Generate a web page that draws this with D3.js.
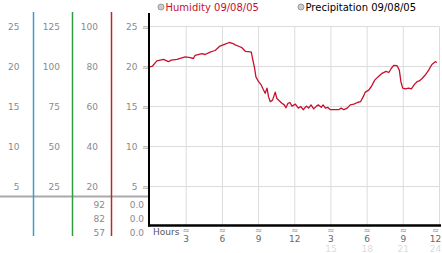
<!DOCTYPE html>
<html>
<head>
<meta charset="utf-8">
<script src="https://cdn.jsdelivr.net/npm/d3@7"></script>
<style>
  body { margin: 0; background: #fff; }
  svg { display: block; font-family: "DejaVu Sans", sans-serif; }
</style>
</head>
<body>
<svg id="chart" width="442" height="253"></svg>
<script>
// readings for the day, hour of day vs humidity (plotted on the 0-25 scale)
var hours = [0, 0.21, 0.57, 1.12, 1.53, 1.76, 2.23, 2.92, 3.33, 3.6, 3.74, 4.3, 4.57, 4.98, 5.4, 5.8,
  6.23, 6.56, 6.84, 7.06, 7.4, 7.62, 7.9, 8.17, 8.4, 8.5, 8.67, 8.78, 9.0, 9.22, 9.4, 9.55, 9.7, 9.83,
  9.97, 10.16, 10.38, 10.52, 10.8, 10.94, 11.13, 11.27, 11.44, 11.6, 11.77, 12.05, 12.3, 12.5, 12.7,
  12.96, 13.15, 13.35, 13.57, 13.8, 13.96, 14.2, 14.35, 14.54, 14.73, 14.95, 15.37, 15.65, 15.85,
  16.07, 16.35, 16.6, 16.9, 17.2, 17.45, 17.67, 17.85, 18.13, 18.35, 18.63, 18.9, 19.24, 19.57, 19.8,
  20.0, 20.2, 20.48, 20.67, 20.8, 20.95, 21.17, 21.44, 21.67, 21.94, 22.14, 22.33, 22.55, 22.8, 23.1,
  23.37, 23.65, 23.78];
var humidity = [19.95, 20.06, 20.7, 20.9, 20.6, 20.8, 20.9, 21.2, 21.1, 21.0, 21.4, 21.6, 21.5, 21.8, 22.0, 22.55,
  22.8, 23.0, 22.9, 22.7, 22.5, 22.35, 21.9, 21.85, 21.8, 21.0, 19.8, 18.7, 18.1, 17.7, 17.1, 16.65, 17.3, 16.2,
  15.6, 15.8, 16.8, 16.0, 15.6, 15.4, 15.2, 14.85, 15.4, 15.5, 15.05, 15.3, 14.8, 15.0, 14.6,
  15.05, 14.8, 15.2, 14.7, 15.05, 15.2, 14.9, 15.2, 14.8, 14.9, 14.6, 14.6, 14.6, 14.8,
  14.6, 14.8, 15.2, 15.3, 15.5, 15.6, 16.2, 16.8, 17.05, 17.5, 18.3, 18.7, 19.15, 19.4, 19.25,
  19.75, 20.15, 20.1, 19.55, 18.1, 17.3, 17.2, 17.3, 17.2, 17.8, 18.1, 18.2, 18.5, 18.9, 19.55,
  20.25, 20.6, 20.5];

var seriesNames = ["Humidity 09/08/05", "Precipitation 09/08/05"];
var seriesColors = ["#c8102e", "#000"];

// stacked scale columns on the left
var col1Ticks = [25, 20, 15, 10, 5];
var col2Ticks = [125, 100, 75, 50, 25];
var col3Ticks = [100, 80, 60, 40, 20];
var col4Ticks = [25, 20, 15, 10, 5];
var col3Rows = ["92", "82", "57"];
var col4Rows = ["0.0", "0.0", "0.0"];

var hourTicks = [3, 6, 9, 12, 15, 18, 21, 24];
var hourLabels = ["3", "6", "9", "12", "3", "6", "9", "12"];
var hourLabels2 = ["", "", "", "", "15", "18", "21", "24"];
var gridValues = [25, 20, 15, 10, 5];

var svg = d3.select("#chart");

var x = d3.scaleLinear([0, 24], [150, 439.5]);
var y = d3.scaleLinear([0, 25], [226.5, 26.5]);
var y2 = d3.scaleLinear([0, 125], [226.5, 26.5]);
var y3 = d3.scaleLinear([0, 100], [226.5, 26.5]);
var rowY = d3.scalePoint([0, 1, 2], [207.5, 236]);

// grid
svg.append("g").selectAll("line")
  .data(gridValues)
  .join("line")
  .attr("x1", 150).attr("x2", x(24))
  .attr("y1", d => y(d)).attr("y2", d => y(d))
  .attr("stroke", "#dcdcdc").attr("stroke-width", 1);

svg.append("g").selectAll("line")
  .data(hourTicks)
  .join("line")
  .attr("x1", d => x(d)).attr("x2", d => x(d))
  .attr("y1", y(25)).attr("y2", 225)
  .attr("stroke", "#dcdcdc").attr("stroke-width", 1);

// grey divider on the left
svg.append("line")
  .attr("x1", 0).attr("x2", 149).attr("y1", 196.5).attr("y2", 196.5)
  .attr("stroke", "#aaa").attr("stroke-width", 2);

// coloured column rules
var ruleX = [33.5, 72.5, 111.5];
var ruleColors = ["#3a9ccf", "#2f9e3a", "#b8282c"];
svg.append("g").selectAll("line")
  .data(ruleX)
  .join("line")
  .attr("x1", d => d).attr("x2", d => d)
  .attr("y1", 12).attr("y2", 236)
  .attr("stroke", (d, i) => ruleColors[i]).attr("stroke-width", 1.5);

// column labels
function column(ticks, scale, xr) {
  svg.append("g").selectAll("text")
    .data(ticks)
    .join("text")
    .attr("x", xr)
    .attr("y", d => scale(d) + 3.5)
    .attr("text-anchor", "end")
    .attr("font-size", 9)
    .attr("fill", "#8a8a8a")
    .text(d => d);
}
column(col1Ticks, y, 19.5);
column(col2Ticks, y2, 60);
column(col3Ticks, y3, 98);
column(col4Ticks, y, 137.5);

// little break marks next to the axis
svg.append("g").selectAll("text")
  .data(col4Ticks)
  .join("text")
  .attr("x", 145.5)
  .attr("y", d => y(d) + 3)
  .attr("text-anchor", "middle")
  .attr("font-size", 8)
  .attr("fill", "#888")
  .text("≈");

svg.append("g").selectAll("text")
  .data(col3Rows)
  .join("text")
  .attr("x", 105).attr("y", (d, i) => rowY(i))
  .attr("text-anchor", "end").attr("font-size", 9).attr("fill", "#8a8a8a")
  .text(d => d);

svg.append("g").selectAll("text")
  .data(col4Rows)
  .join("text")
  .attr("x", 144).attr("y", (d, i) => rowY(i))
  .attr("text-anchor", "end").attr("font-size", 9).attr("fill", "#8a8a8a")
  .text(d => d);

// humidity line
var line = d3.line()
  .x(d => x(d[0]))
  .y(d => y(d[1]));

svg.append("path")
  .datum(hours.map((h, i) => [h, humidity[i]]))
  .attr("d", line)
  .attr("fill", "none")
  .attr("stroke", seriesColors[0])
  .attr("stroke-width", 1.3)
  .attr("stroke-linejoin", "round");

// axes
svg.append("line")
  .attr("x1", 149).attr("x2", 149).attr("y1", 13).attr("y2", 226.5)
  .attr("stroke", "#000").attr("stroke-width", 2);
svg.append("line")
  .attr("x1", 148).attr("x2", 441).attr("y1", 225.5).attr("y2", 225.5)
  .attr("stroke", "#000").attr("stroke-width", 2.5);

// hour labels
svg.append("text")
  .attr("x", 153).attr("y", 235)
  .attr("font-size", 9).attr("fill", "#555")
  .text("Hours");

var xt = svg.append("g").selectAll("g")
  .data(hourTicks)
  .join("g")
  .attr("transform", d => `translate(${Math.min(x(d), 435.5)},0)`);
xt.append("text")
  .attr("y", 233).attr("text-anchor", "middle")
  .attr("font-size", 8).attr("fill", "#888")
  .text("≈");
xt.append("text")
  .attr("y", 242).attr("text-anchor", "middle")
  .attr("font-size", 9).attr("fill", "#666")
  .text((d, i) => hourLabels[i]);
xt.append("text")
  .attr("y", 251.5).attr("text-anchor", "middle")
  .attr("font-size", 9).attr("fill", "#dcdcdc")
  .text((d, i) => hourLabels2[i]);

// legend
var legendX = [161, 301];
var lg = svg.append("g").selectAll("g")
  .data(seriesNames)
  .join("g")
  .attr("transform", (d, i) => `translate(${legendX[i]},7)`);
lg.append("circle")
  .attr("r", 3)
  .attr("fill", "#ccc").attr("stroke", "#999").attr("stroke-width", 1);
lg.append("text")
  .attr("x", 4.5).attr("y", 4)
  .attr("font-size", 10)
  .attr("fill", (d, i) => seriesColors[i])
  .text(d => d);
</script>
</body>
</html>
